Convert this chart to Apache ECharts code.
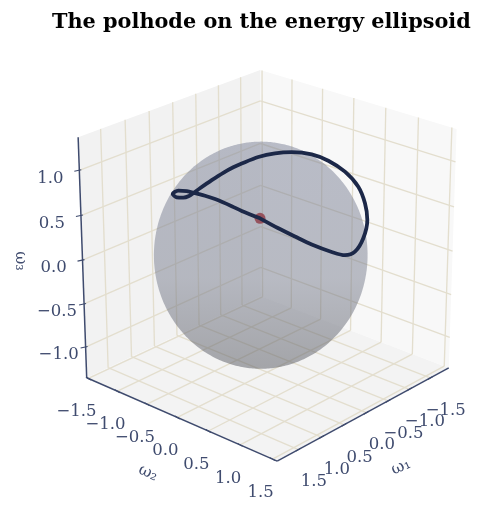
<!DOCTYPE html>
<html><head><meta charset="utf-8"><style>html,body{margin:0;padding:0;background:#fff}#c{width:493px;height:513px}</style>
<script src="https://cdn.jsdelivr.net/npm/echarts@6/dist/echarts.min.js"></script></head><body><div id="c"></div>
<script>
const titleText='The polhode on the energy ellipsoid';
const ticks12=[-1.5,-1,-0.5,0,0.5,1,1.5];
const ticks3=[-1,-0.5,0,0.5,1];
const range1=[-1.95,1.95],range2=[-1.53,1.57],range3=[-1.36,1.36];
const semi=[1.58,1.27,1.19];
const cen=[0.07,-0.05,0];
const omega1=[0.961,1.066,1.100,1.130,1.130,1.103,1.065,0.977,0.933,1.084,1.141,1.139,1.104,1.051,0.926,0.784,0.652,0.540,0.291,0.030,-0.266,-0.784,-0.920,-1.038,-1.110,-1.113,-1.074,-0.700,-0.315,-0.051,0.203,0.496,0.685,0.837];
const omega2=[0.593,0.388,0.258,0.020,-0.139,-0.346,-0.482,-0.689,-0.817,-0.632,-0.480,-0.388,-0.334,-0.279,-0.185,-0.109,-0.049,-0.000,0.078,0.149,0.197,0.146,0.312,0.492,0.653,0.758,0.824,1.015,1.149,1.177,1.149,1.049,0.928,0.783];
const omega3=[0.776,0.828,0.855,0.880,0.878,0.856,0.831,0.769,0.691,0.732,0.777,0.817,0.859,0.908,0.992,1.060,1.106,1.135,1.172,1.175,1.139,0.996,0.935,0.830,0.685,0.524,0.362,0.289,0.262,0.292,0.379,0.502,0.601,0.688];
const marker=[0.961,0.593,0.776];
const cubeCorners=[[1,-1,1],[1,-1,-1],[-1,-1,1],[-1,-1,-1],[-1,1,1],[-1,1,-1],[1,1,-1]];
const cornerPix=[[78,137],[87,378],[260.5,70],[260.5,296],[456.5,129],[449,368],[277,461]];
function solve(A,b){const n=b.length;const M=A.map((r,i)=>r.concat(b[i]));for(let i=0;i<n;i++){let p=i;for(let k=i+1;k<n;k++)if(Math.abs(M[k][i])>Math.abs(M[p][i]))p=k;[M[i],M[p]]=[M[p],M[i]];for(let k=0;k<n;k++)if(k!==i){const f=M[k][i]/M[i][i];for(let j=i;j<=n;j++)M[k][j]-=f*M[i][j];}}return M.map((r,i)=>r[n]/r[i]);}
function fit(){const rows=[],rhs=[];cubeCorners.forEach((c,i)=>{const[u,v]=cornerPix[i];const[x,y,z]=c;rows.push([x,y,z,1,0,0,0,0,-u*x,-u*y,-u*z]);rhs.push(u);rows.push([0,0,0,0,x,y,z,1,-v*x,-v*y,-v*z]);rhs.push(v);});const n=11;const A=[],b=[];for(let i=0;i<n;i++){A.push(new Array(n).fill(0));b.push(0);rows.forEach((r,k)=>{for(let j=0;j<n;j++)A[i][j]+=r[i]*r[j];b[i]+=r[i]*rhs[k];});}const p=solve(A,b);return [[p[0],p[1],p[2],p[3]],[p[4],p[5],p[6],p[7]],[p[8],p[9],p[10],1]];}
const P=fit();
const mid=[0,1,2].map(i=>[range1,range2,range3][i].reduce((a,b)=>a+b)/2);
const half=[0,1,2].map(i=>([range1,range2,range3][i][1]-[range1,range2,range3][i][0])/2);
function proj(a,b,c){const X=[(a-mid[0])/half[0],(b-mid[1])/half[1],(c-mid[2])/half[2],1];const r=P.map(R=>R[0]*X[0]+R[1]*X[1]+R[2]*X[2]+R[3]);return [r[0]/r[2],r[1]/r[2]];}
const [r1,r2,r3]=[range1,range2,range3];
const polys=[
 {c:'#f2f2f2',p:[[r1[0],r2[0],r3[0]],[r1[1],r2[0],r3[0]],[r1[1],r2[0],r3[1]],[r1[0],r2[0],r3[1]]]},
 {c:'#f8f8f8',p:[[r1[0],r2[0],r3[0]],[r1[0],r2[1],r3[0]],[r1[0],r2[1],r3[1]],[r1[0],r2[0],r3[1]]]},
 {c:'#f3f3f3',p:[[r1[0],r2[0],r3[0]],[r1[1],r2[0],r3[0]],[r1[1],r2[1],r3[0]],[r1[0],r2[1],r3[0]]]}
].map(o=>({c:o.c,p:o.p.map(q=>proj(...q))}));
const grid=[];
ticks12.forEach(t=>{grid.push([proj(t,r2[0],r3[0]),proj(t,r2[0],r3[1])]);grid.push([proj(t,r2[0],r3[0]),proj(t,r2[1],r3[0])]);
 grid.push([proj(r1[0],t,r3[0]),proj(r1[0],t,r3[1])]);grid.push([proj(r1[0],t,r3[0]),proj(r1[1],t,r3[0])]);});
ticks3.forEach(t=>{grid.push([proj(r1[0],r2[0],t),proj(r1[1],r2[0],t)]);grid.push([proj(r1[0],r2[0],t),proj(r1[0],r2[1],t)]);});
const axes=[[proj(r1[1],r2[0],r3[0]),proj(r1[1],r2[0],r3[1])],[proj(r1[1],r2[0],r3[0]),proj(r1[1],r2[1],r3[0])],[proj(r1[1],r2[1],r3[0]),proj(r1[0],r2[1],r3[0])]];
const tk=[],labels=[];
ticks3.forEach(t=>{const p=proj(r1[1],r2[0],t);tk.push([[p[0]-5,p[1]+1],[p[0]+2,p[1]-0.5]]);labels.push({t:t,p:[p[0]-(t<0?27:29),p[1]+(t<0?8:8)]});});
ticks12.forEach(t=>{const p=proj(r1[1],t,r3[0]);tk.push([[p[0]-2.5,p[1]-1.5],[p[0]+2.5,p[1]+1.5]]);labels.push({t:t,p:[p[0]-12,p[1]+33.5]});});
ticks12.forEach(t=>{const p=proj(t,r2[1],r3[0]);tk.push([[p[0]-2.5,p[1]+1.5],[p[0]+2.5,p[1]-1.5]]);labels.push({t:t,p:[p[0]+15.5,p[1]+32.5]});});
function hull(pts){pts=pts.slice().sort((a,b)=>a[0]-b[0]||a[1]-b[1]);const cr=(o,a,b)=>(a[0]-o[0])*(b[1]-o[1])-(a[1]-o[1])*(b[0]-o[0]);const l=[],u=[];for(const p of pts){while(l.length>1&&cr(l[l.length-2],l[l.length-1],p)<=0)l.pop();l.push(p);}for(const p of pts.reverse()){while(u.length>1&&cr(u[u.length-2],u[u.length-1],p)<=0)u.pop();u.push(p);}return l.concat(u);}
const sph=[];for(let i=0;i<=90;i++)for(let j=0;j<180;j++){const th=i*Math.PI/90,ph=j*Math.PI/90;sph.push(proj(cen[0]+semi[0]*Math.sin(th)*Math.cos(ph),cen[1]+semi[1]*Math.sin(th)*Math.sin(ph),cen[2]+semi[2]*Math.cos(th)));}
const outline=hull(sph);
const polhode=omega1.map((a,i)=>proj(a,omega2[i],omega3[i]));polhode.push(polhode[0]);
function custom(items,fn,z){return {type:'custom',coordinateSystem:'cartesian2d',silent:true,clip:false,z,data:items.map((_,i)=>[i,0]),encode:{x:0,y:1},renderItem:(p,api)=>fn(items[api.value(0)],api)};}
const segFn=(col,w)=>(s,api)=>{const a=api.coord(s[0]),b=api.coord(s[1]);return {type:'line',shape:{x1:a[0],y1:a[1],x2:b[0],y2:b[1]},style:{stroke:col,lineWidth:w}};};
const fmt=t=>(t<0?'\u2212':'')+Math.abs(t).toFixed(1);
const textFn=(s,api)=>{const a=api.coord(s.p);return {type:'text',x:a[0],y:a[1],rotation:s.r||0,style:{text:s.s!==undefined?s.s:fmt(s.t),x:0,y:0,align:'center',verticalAlign:'middle',fill:'#3f4b6e',font:(s.f||16.5)+'px "DejaVu Serif"'}};};
const axisTitles=[{s:'\u03c9\u2081',p:[401,467],r:0.42,f:16},{s:'\u03c9\u2082',p:[148,473],r:-0.42,f:16},{s:'\u03c9\u2083',p:[20,261],r:-Math.PI/2,f:16}];
const chart=echarts.init(document.getElementById('c'),null,{renderer:'canvas'});
chart.setOption({animation:false,
 title:{text:titleText,left:47,top:7,textStyle:{fontFamily:'DejaVu Serif',fontWeight:'bold',fontSize:20.8,color:'#000'}},
 grid:{left:0,right:0,top:0,bottom:0},
 xAxis:{type:'value',min:0,max:493,show:false},yAxis:{type:'value',min:0,max:513,inverse:true,show:false},
 series:[
  custom(polys,(o,api)=>({type:'polygon',shape:{points:o.p.map(q=>api.coord(q))},style:{fill:o.c}}),1),
  custom(grid,segFn('#e3dece',1.35),2),
  custom([outline],(o,api)=>({type:'polygon',shape:{points:o.map(q=>api.coord(q))},style:{fill:{type:'linear',x:0,y:0,x2:0,y2:1,colorStops:[{offset:0,color:'rgba(122,128,150,0.5)'},{offset:0.6,color:'rgba(120,125,142,0.5)'},{offset:1,color:'rgba(85,87,95,0.5)'}]}}}),3),
  {type:'scatter',z:4,silent:true,symbolSize:11,itemStyle:{color:'#8f3a45'},data:[proj(marker[0],marker[1],marker[2])]},
  {type:'line',z:5,silent:true,showSymbol:false,smooth:0.3,lineStyle:{color:'#1c2848',width:3.8,cap:'round',join:'round'},data:polhode},
  custom(axes,segFn('#3f4b6e',1.5),6),
  custom(tk,segFn('#3f4b6e',1.1),6),
  custom(labels,textFn,7),
  custom(axisTitles,textFn,7)
 ]});
</script></body></html>
